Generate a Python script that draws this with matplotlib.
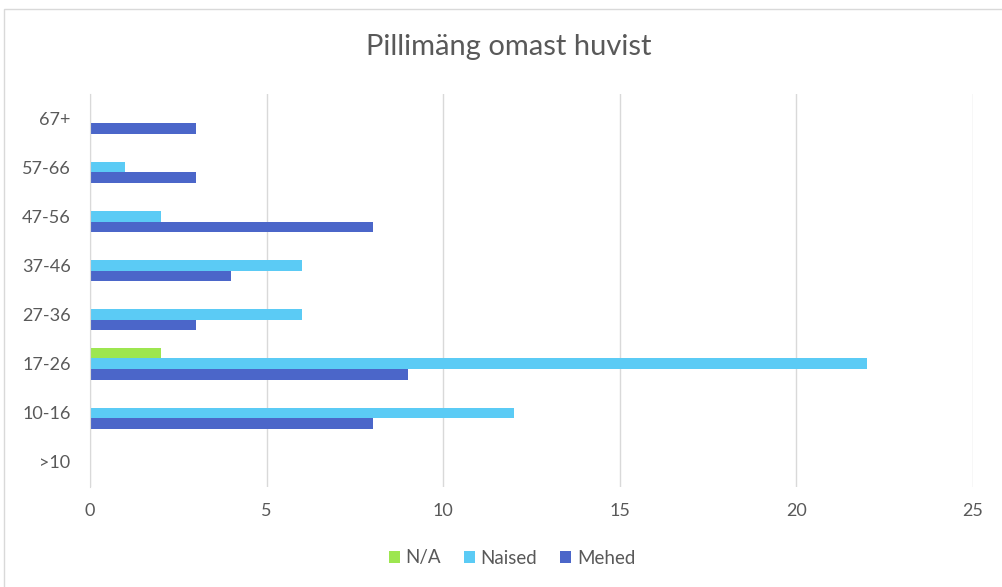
import matplotlib.pyplot as plt
import numpy as np
from matplotlib.patches import Rectangle

categories = ['>10', '10-16', '17-26', '27-36', '37-46', '47-56', '57-66', '67+']
na = [0, 0, 2, 0, 0, 0, 0, 0]
naised = [0, 12, 22, 6, 6, 2, 1, 0]
mehed = [0, 8, 9, 3, 4, 8, 3, 3]

plt.rcParams['font.family'] = ['Lato', 'DejaVu Sans']

fig = plt.figure(figsize=(10.02, 5.87), dpi=100)
ax = fig.add_axes([90 / 1002, 1 - 486.5 / 587, 883 / 1002, 393 / 587])

# chart frame
fig.patches.append(Rectangle((4 / 1002, -0.1), 1.2, 1 - 9 / 587 + 0.1,
                             transform=fig.transFigure, fill=False,
                             edgecolor='#d9d9d9', linewidth=1))

y = np.arange(len(categories))
h = 0.215
ax.barh(y + h, na, height=h, color='#9de650', label='N/A')
ax.barh(y, naised, height=h, color='#5bcbf5', label='Naised')
ax.barh(y - h, mehed, height=h, color='#4b66c9', label='Mehed')

ax.set_xlim(0, 25)
ax.set_ylim(-0.5, len(categories) - 0.5)
ax.set_xticks(range(0, 26, 5))
ax.set_yticks(y)
ax.set_yticklabels(categories)
ax.grid(axis='x', color='#d9d9d9', linewidth=1)
ax.set_axisbelow(True)
for s in ['top', 'right', 'bottom']:
    ax.spines[s].set_visible(False)
ax.spines['left'].set_color('#d9d9d9')
ax.tick_params(length=0, labelsize=13, colors='#595959')
ax.tick_params(axis='x', pad=12)
ax.tick_params(axis='y', pad=14)

fig.text(0.508, 1 - 47 / 587, 'Pillimäng omast huvist', ha='center', va='center',
         fontsize=21, color='#595959')

ax.legend(loc='center', bbox_to_anchor=((512 - 90) / 883, -(558 - 486.5) / 393),
          ncol=3, frameon=False, fontsize=13.5, labelcolor='#595959',
          handlelength=0.6, handleheight=0.6, handletextpad=0.3, columnspacing=1.2)

fig.savefig('out.png', dpi=100)
